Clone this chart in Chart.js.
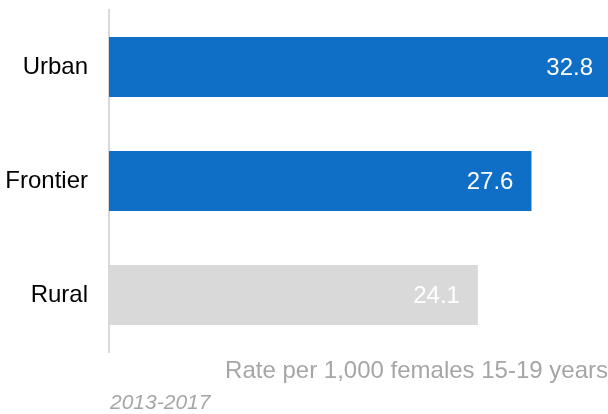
<!DOCTYPE html>
<html>
<head>
<meta charset="utf-8">
<script src="https://cdn.jsdelivr.net/npm/chart.js@4/dist/chart.umd.min.js"></script>
<style>
  html, body { margin: 0; padding: 0; background: #fff; }
  #wrap { position: relative; width: 608px; height: 414px; }
  #note { position: absolute; left: 110px; top: 390px; font: italic 21px "Liberation Sans", Arial, sans-serif; color: #a6a6a6; white-space: nowrap; }
</style>
</head>
<body>
<div id="wrap">
  <canvas id="c" width="608" height="414"></canvas>
  <div id="note">2013-2017</div>
</div>
<script>
const categories = ["Urban", "Frontier", "Rural"];
const rates = [32.8, 27.6, 24.1];
const axisTitle = "Rate per 1,000 females 15-19 years";
const xMin = 0;
const xMax = 32.6;

const barColors = ["#0F6FC6", "#0F6FC6", "#D9D9D9"];
const FONT = '"Liberation Sans", Arial, sans-serif';

const insideEndLabels = {
  id: 'insideEndLabels',
  afterDatasetsDraw(chart) {
    const ctx = chart.ctx;
    const meta = chart.getDatasetMeta(0);
    ctx.save();
    ctx.font = '24px ' + FONT;
    ctx.fillStyle = '#ffffff';
    ctx.textAlign = 'right';
    ctx.textBaseline = 'middle';
    meta.data.forEach((bar, i) => {
      const v = chart.data.datasets[0].data[i];
      ctx.fillText(v.toFixed(1), bar.x - 18, bar.y + 1);
    });
    ctx.restore();
  }
};

new Chart(document.getElementById('c'), {
  type: 'bar',
  data: {
    labels: categories,
    datasets: [{
      data: rates,
      backgroundColor: barColors,
      borderWidth: 0,
      categoryPercentage: 1,
      barPercentage: 0.526
    }]
  },
  options: {
    indexAxis: 'y',
    responsive: false,
    animation: false,
    layout: { padding: { top: 10, right: 0, bottom: 0, left: 0 } },
    plugins: { legend: { display: false }, tooltip: { enabled: false } },
    scales: {
      x: {
        min: xMin, max: xMax,
        ticks: { display: false },
        grid: { display: false, drawTicks: false },
        border: { display: false },
        title: {
          display: true, text: axisTitle, align: 'end',
          color: '#a6a6a6', font: { family: FONT, size: 24 },
          padding: { top: 0, bottom: 28 }
        },
        afterFit(scale) { scale.height = 62; scale.paddingLeft = 0; scale.paddingRight = 0; }
      },
      y: {
        ticks: { color: '#000000', font: { family: FONT, size: 24 }, padding: 21 },
        grid: { display: false, drawTicks: false },
        border: { display: true, color: '#D9D9D9', width: 2 },
        afterFit(scale) { scale.width = 109; scale.paddingTop = 0; scale.paddingBottom = 0; }
      }
    }
  },
  plugins: [insideEndLabels]
});
</script>
</body>
</html>
